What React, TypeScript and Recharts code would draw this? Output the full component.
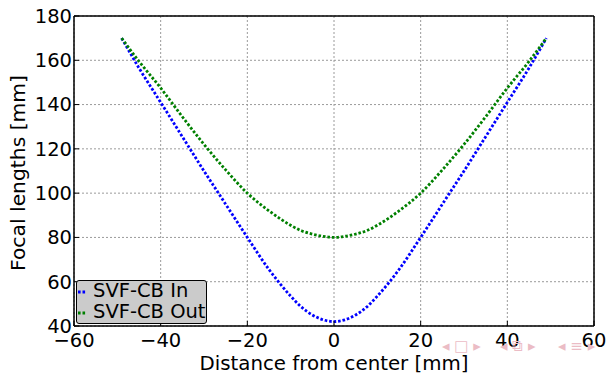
import React from "react"
import {
  CartesianGrid,
  Legend,
  Line,
  LineChart,
  ReferenceArea,
  XAxis,
  YAxis,
} from "recharts"

// distance from center [mm]
const distances = [-49, -45, -40, -35, -30, -25, -20, -15, -10, -7.5, -5, -2.5, 0, 2.5, 5, 7.5, 10, 15, 20, 25, 30, 35, 40, 45, 49]
// focal lengths [mm]
const svfIn = [170, 156.5, 141, 125.5, 110, 95, 80, 65.5, 53.5, 48.5, 45, 42.8, 42, 42.8, 45, 48.5, 53.5, 65.5, 80, 95, 110, 125.5, 141, 156.5, 170]
const svfOut = [170, 159.5, 147.5, 134.5, 122, 110.5, 100, 92, 85.5, 83, 81.5, 80.5, 80, 80.5, 81.5, 83, 85.5, 92, 100, 110.5, 122, 134.5, 147.5, 159.5, 170]

const xTicks = [-60, -40, -20, 0, 20, 40, 60]
const yTicks = [40, 60, 80, 100, 120, 140, 160, 180]

const seriesNames = ["SVF-CB In", "SVF-CB Out"]
const seriesColors = ["#0000ff", "#008000"]

// beamer navigation symbols, bottom right
const navGroups = ["\u25C2 \u25A1 \u25B8", "\u25C2 \u29C9 \u25B8", "\u25C2 \u2261 \u25B8"]
const navLeft = [442, 500, 558]

const data = distances.map((x, i) => ({ x, inner: svfIn[i], outer: svfOut[i] }))

const font = "'DejaVu Sans', sans-serif"
const fontSize = 19.5
const minus = (v: number) => String(v).replace("-", "\u2212")
const dots = "2.6 1.9"
const lineWidth = 2.8

const LegendBox = () => (
  <div
    style={{
      background: "#cbcbcb",
      border: "1px solid #000",
      borderRadius: 3,
      width: 129,
      height: 42,
      boxSizing: "content-box",
      fontFamily: font,
      fontSize,
      lineHeight: "20.5px",
      color: "#000",
    }}
  >
    {seriesNames.map((name, i) => (
      <div key={name} style={{ display: "flex", alignItems: "center", whiteSpace: "nowrap" }}>
        <svg width={16} height={20}>
          <line x1={1} x2={10} y1={11} y2={11} stroke={seriesColors[i]} strokeWidth={lineWidth} strokeDasharray={dots} />
        </svg>
        <span>{name}</span>
      </div>
    ))}
  </div>
)

export default function App() {
  return (
    <div style={{ position: "absolute", left: 0, top: 0, width: 608, height: 374, background: "#fff" }}>
      <LineChart width={608} height={374} data={data} margin={{ top: 15, right: 13, left: 0, bottom: 0 }}>
        <CartesianGrid stroke="#9a9a9a" strokeDasharray="2 2" />
        <XAxis
          type="number"
          dataKey="x"
          domain={[-60, 60]}
          ticks={xTicks}
          height={48}
          tickFormatter={minus}
          tickSize={-5}
          tickMargin={12}
          stroke="#000"
          tick={{ fill: "#000", fontSize, fontFamily: font }}
          label={{ value: "Distance from center [mm]", position: "insideBottom", offset: 4, fill: "#000", fontSize: 19.8, fontFamily: font }}
        />
        <XAxis xAxisId="top" orientation="top" type="number" dataKey="x" domain={[-60, 60]} ticks={xTicks} height={1} tick={false} tickSize={-5} stroke="#000" />
        <YAxis
          type="number"
          domain={[40, 180]}
          ticks={yTicks}
          width={74}
          tickSize={-5}
          tickMargin={7}
          stroke="#000"
          tick={{ fill: "#000", fontSize, fontFamily: font }}
          label={{ value: "Focal lengths [mm]", angle: -90, position: "center", dx: -19, dy: 2, fill: "#000", fontSize: 20.3, fontFamily: font }}
        />
        <YAxis yAxisId="right" orientation="right" type="number" domain={[40, 180]} ticks={yTicks} width={1} tick={false} tickSize={-5} stroke="#000" />
        <ReferenceArea x1={-60} x2={60} y1={40} y2={180} fill="none" stroke="#000" strokeWidth={1} />
        <Line dataKey="inner" name={seriesNames[0]} type="monotone" stroke={seriesColors[0]} strokeWidth={lineWidth} strokeDasharray={dots} dot={false} isAnimationActive={false} />
        <Line dataKey="outer" name={seriesNames[1]} type="monotone" stroke={seriesColors[1]} strokeWidth={lineWidth} strokeDasharray={dots} dot={false} isAnimationActive={false} />
        <Legend
          layout="vertical"
          align="center"
          verticalAlign="middle"
          content={() => <LegendBox />}
          wrapperStyle={{ left: 76, top: 280, width: 131, height: 44 }}
        />
      </LineChart>
      {navGroups.map((g, i) => (
        <div
          key={i}
          style={{
            position: "absolute",
            left: navLeft[i],
            top: 337,
            fontFamily: font,
            fontSize: 15,
            lineHeight: "18px",
            color: "#ebbcc5",
            whiteSpace: "nowrap",
          }}
        >
          {g}
        </div>
      ))}
    </div>
  )
}
